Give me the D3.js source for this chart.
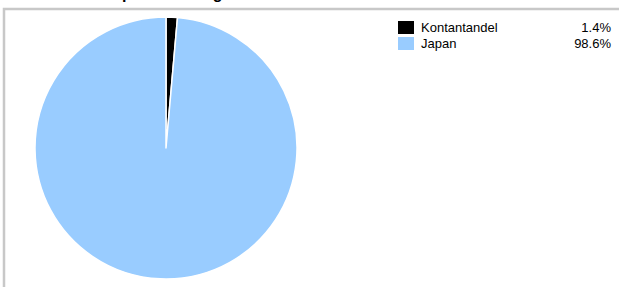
<!DOCTYPE html>
<html>
<head>
<meta charset="utf-8">
<script src="https://cdn.jsdelivr.net/npm/d3@7"></script>
<style>
  body { margin: 0; background: #fff; }
  svg { display: block; font-family: "Liberation Sans", Arial, sans-serif; }
</style>
</head>
<body>
<div id="chart"></div>
<script>
// data
var labels = ["Kontantandel", "Japan"];
var values = [1.4, 98.6];
var colors = ["#000000", "#99ccff"];

var width = 619, height = 287,
    cx = 166, cy = 148, radius = 131;

var svg = d3.select("#chart").append("svg")
    .attr("width", width)
    .attr("height", height);

// title, mostly cut off above the frame (only descenders show)
svg.append("text")
    .attr("x", 119)
    .attr("y", -1)
    .attr("text-anchor", "middle")
    .style("font-size", "16px")
    .style("font-weight", "bold")
    .text("Kontantandel per betalning");

// frame
svg.append("rect")
    .attr("x", 4)
    .attr("y", 9)
    .attr("width", 640)
    .attr("height", 300)
    .attr("fill", "none")
    .attr("stroke", "#c8c8c8")
    .attr("stroke-width", 2.5);

var pie = d3.pie().sort(null).value(function(d) { return d; });
var arc = d3.arc().innerRadius(0).outerRadius(radius);

var g = svg.append("g")
    .attr("transform", "translate(" + cx + "," + cy + ")");

g.selectAll("path")
    .data(pie(values))
    .enter()
    .append("path")
    .attr("d", arc)
    .attr("fill", function(d, i) { return colors[i]; })
    .attr("stroke", "#fff")
    .attr("stroke-width", 1.5)
    .attr("stroke-linejoin", "round");

// legend
var legend = svg.append("g")
    .attr("transform", "translate(398,21)");

var item = legend.selectAll("g")
    .data(labels)
    .enter()
    .append("g")
    .attr("transform", function(d, i) { return "translate(0," + (i * 16) + ")"; });

item.append("rect")
    .attr("width", 16)
    .attr("height", 13)
    .attr("fill", function(d, i) { return colors[i]; });

item.append("text")
    .attr("x", 23)
    .attr("y", 11)
    .style("font-size", "13px")
    .text(function(d) { return d; });

item.append("text")
    .attr("x", 213)
    .attr("y", 11)
    .attr("text-anchor", "end")
    .style("font-size", "13px")
    .text(function(d, i) { return values[i].toFixed(1) + "%"; });
</script>
</body>
</html>
